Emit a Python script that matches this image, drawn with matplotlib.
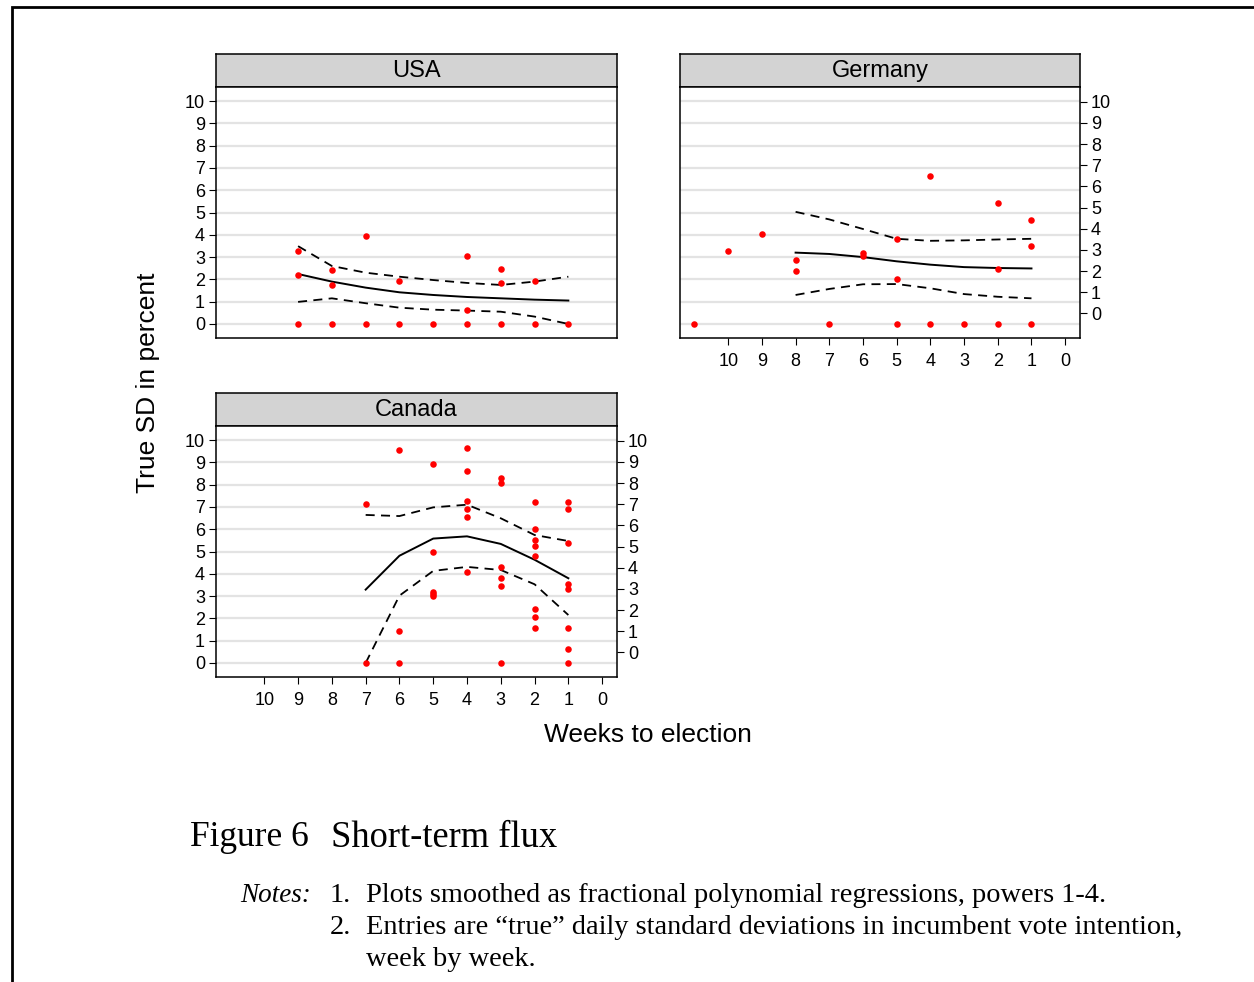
import matplotlib.pyplot as plt
from matplotlib.patches import Rectangle

plt.rcParams['font.family'] = ['Liberation Sans', 'DejaVu Sans']

# data: weeks to election vs "true" SD in percent
usa_weeks = [9, 9, 9, 8, 8, 8, 7, 7, 6, 6, 5, 4, 4, 4, 3, 3, 3, 2, 2, 1]
usa_sd = [3.28, 2.21, 0, 2.42, 1.73, 0, 3.94, 0, 1.91, 0, 0, 3.04, 0.63, 0,
          2.48, 1.84, 0, 1.94, 0, 0]
usa_fit_weeks = [9, 8, 7, 6, 5, 4, 3, 2, 1]
usa_fit = [2.24, 1.90, 1.63, 1.42, 1.30, 1.21, 1.15, 1.09, 1.05]
usa_hi = [3.49, 2.60, 2.30, 2.12, 1.97, 1.84, 1.75, 1.90, 2.12]
usa_lo = [0.99, 1.15, 0.93, 0.73, 0.64, 0.60, 0.55, 0.33, 0.0]

ger_weeks = [11, 10, 9, 8, 8, 7, 6, 6, 5, 5, 5, 4, 4, 3, 2, 2, 2, 1, 1, 1]
ger_sd = [0, 3.28, 4.05, 2.88, 2.39, 0, 3.18, 3.04, 3.82, 2.0, 0, 6.64, 0, 0,
          5.43, 2.48, 0, 4.67, 3.48, 0]
ger_fit_weeks = [8, 7, 6, 5, 4, 3, 2, 1]
ger_fit = [3.20, 3.14, 3.00, 2.81, 2.66, 2.55, 2.51, 2.49]
ger_hi = [5.03, 4.69, 4.26, 3.82, 3.73, 3.75, 3.79, 3.82]
ger_lo = [1.30, 1.57, 1.78, 1.79, 1.60, 1.34, 1.22, 1.15]

can_weeks = [7, 7, 6, 6, 6, 5, 5, 5, 5, 5, 4, 4, 4, 4, 4, 4, 3, 3, 3, 3, 3, 3,
             2, 2, 2, 2, 2, 2, 2, 2, 1, 1, 1, 1, 1, 1, 1, 1]
can_sd = [7.14, 0, 9.55, 1.43, 0, 8.91, 4.99, 3.20, 3.11, 3.02,
          9.63, 8.60, 7.25, 6.91, 6.56, 4.10, 8.28, 8.09, 4.32, 3.83, 3.47, 0,
          7.22, 5.99, 5.52, 5.26, 4.81, 2.41, 2.05, 1.55,
          7.20, 6.89, 5.37, 3.53, 3.30, 1.55, 0.64, 0]
can_fit_weeks = [7, 6, 5, 4, 3, 2, 1]
can_fit = [3.29, 4.81, 5.58, 5.68, 5.34, 4.63, 3.80]
can_hi = [6.64, 6.59, 6.98, 7.10, 6.49, 5.74, 5.47]
can_lo = [0.0, 3.02, 4.13, 4.31, 4.17, 3.53, 2.15]

tick_vals = list(range(0, 11))

W, H = 1254, 982
fig = plt.figure(figsize=(W / 100, H / 100), dpi=100)


def px_axes(x0, y0, x1, y1):
    # axes placed by pixel box (top-left origin)
    return fig.add_axes([x0 / W, 1 - y1 / H, (x1 - x0) / W, (y1 - y0) / H])


def strip(x0, y0, x1, y1, title):
    s = px_axes(x0, y0, x1, y1)
    s.set_facecolor('#d3d3d3')
    s.set_xticks([])
    s.set_yticks([])
    for sp in s.spines.values():
        sp.set_linewidth(1.1)
    s.text(0.5, 0.47, title, ha='center', va='center', fontsize=17,
           transform=s.transAxes)


def panel(box, title, weeks, sd, fw, fit, hi, lo, left=False, right=False, bottom=False):
    x0, y0, x1, y1 = box
    strip(x0, y0 - 33, x1, y0, title)
    ax = px_axes(x0, y0, x1, y1)
    ax.set_xlim(11.43, -0.44)
    ax.set_ylim(-0.63, 10.63)
    ax.set_yticks(tick_vals)
    ax.set_xticks(tick_vals)
    ax.grid(axis='y', color='#e3e3e3', lw=1.6, zorder=0)
    for sp in ax.spines.values():
        sp.set_linewidth(1.1)
    ax.tick_params(axis='y', length=5 if left else 0, width=0.8, labelsize=13,
                   labelleft=left, pad=3)
    ax.tick_params(axis='x', length=5 if bottom else 0, width=0.8, labelsize=13,
                   labelbottom=bottom, pad=6)

    ax.plot(fw, hi, color='black', lw=1.3, ls=(0, (5, 3.5)), zorder=2)
    ax.plot(fw, lo, color='black', lw=1.3, ls=(0, (5, 3.5)), zorder=2)
    ax.plot(fw, fit, color='black', lw=1.4, zorder=2)
    ax.plot(weeks, sd, 'o', color='red', ms=4.7, mec='none', zorder=3)

    if right:
        # right-hand scale in the original is slightly compressed
        sec = ax.secondary_yaxis('right', functions=(lambda y: (y - 0.47) / 0.95,
                                                     lambda v: 0.47 + 0.95 * v))
        sec.set_yticks(tick_vals)
        sec.tick_params(length=5, width=0.8, labelsize=13, pad=3)
        sec.spines['right'].set_visible(False)
    return ax


panel((216, 87, 617, 338), 'USA', usa_weeks, usa_sd, usa_fit_weeks, usa_fit,
      usa_hi, usa_lo, left=True)
panel((680, 87, 1080, 338), 'Germany', ger_weeks, ger_sd, ger_fit_weeks, ger_fit,
      ger_hi, ger_lo, right=True, bottom=True)
panel((216, 426, 617, 677), 'Canada', can_weeks, can_sd, can_fit_weeks, can_fit,
      can_hi, can_lo, left=True, right=True, bottom=True)

fig.text(148 / W, 1 - 383 / H, 'True SD in percent', rotation=90,
         ha='center', va='center', fontsize=19)
fig.text(648 / W, 1 - 735 / H, 'Weeks to election', ha='center', va='center',
         fontsize=19)

# outer frame (cropped at right and bottom)
fig.patches.append(Rectangle((12 / W, -0.05), 1.2, 1 - 7 / H + 0.05, transform=fig.transFigure,
                             fill=False, ec='black', lw=2))

serif = ['Liberation Serif', 'DejaVu Serif']
fig.text(190 / W, 1 - 838 / H, 'Figure 6', va='center', family=serif, fontsize=25.5)
fig.text(331 / W, 1 - 838 / H, 'Short-term flux', va='center', family=serif, fontsize=26.3)

fs = 20.4
fig.text(311 / W, 1 - 895 / H, 'Notes:', ha='right', va='center', family=serif,
         style='italic', fontsize=19.5)
fig.text(330 / W, 1 - 895 / H, '1.', va='center', family=serif, fontsize=fs)
fig.text(366 / W, 1 - 895 / H, 'Plots smoothed as fractional polynomial regressions, powers 1-4.',
         va='center', family=serif, fontsize=fs)
fig.text(330 / W, 1 - 927 / H, '2.', va='center', family=serif, fontsize=fs)
fig.text(366 / W, 1 - 927 / H,
         'Entries are \u201ctrue\u201d daily standard deviations in incumbent vote intention,',
         va='center', family=serif, fontsize=fs)
fig.text(366 / W, 1 - 959 / H, 'week by week.', va='center', family=serif, fontsize=fs)

fig.savefig('out.png', dpi=100)
